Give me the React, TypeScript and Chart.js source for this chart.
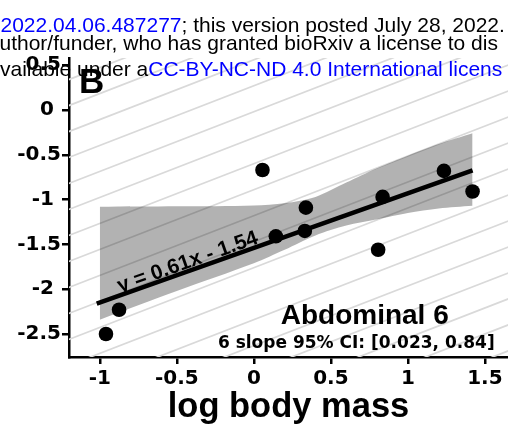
import React, { useEffect, useRef } from "react";
import { Chart, registerables } from "chart.js";

Chart.register(...registerables);

// ---- data ----
const pointX = [-0.96, -0.875, 0.056, 0.143, 0.338, 0.331, 0.836, 0.807, 1.234, 1.42];
const pointY = [-2.5, -2.23, -0.67, -1.41, -1.09, -1.35, -0.97, -1.56, -0.68, -0.91];

const fitSlope = 0.61;
const fitIntercept = -1.54;
const fitXRange = [-1.02, 1.42];

const bandX = [-1, -0.5, 0, 0.2, 0.4, 0.6, 0.8, 1.0, 1.2, 1.42];
const bandUpper = [-1.08, -1.075, -1.065, -1.04, -0.97, -0.81, -0.65, -0.51, -0.38, -0.26];
const bandLower = [-2.34, -2.02, -1.71, -1.56, -1.4, -1.29, -1.22, -1.15, -1.1, -1.07];

const isoSlope = 2 / 3;
const isoIntercepts = [1.14, 0.85, 0.56, 0.27, -0.02, -0.31, -0.6, -0.89, -1.18, -1.47, -1.76, -2.05, -2.34, -2.63, -2.92, -3.21, -3.5, -3.79];

const xTicks = [-1, -0.5, 0, 0.5, 1, 1.5];
const xTickLabels = ["-1", "-0.5", "0", "0.5", "1", "1.5"];
const yTicks = [0.5, 0, -0.5, -1, -1.5, -2, -2.5];
const yTickLabels = ["0.5", "0", "-0.5", "-1", "-1.5", "-2", "-2.5"];
const xRange = [-1.2, 1.65];
const yRange = [-2.757, 0.58];

const xTitle = "log body mass";
const panelLabel = "B";
const eqLabel = "y = 0.61x - 1.54";
const seriesLabel = "Abdominal 6";
const ciLabel = "6 slope 95% CI: [0.023, 0.84]";
const headerLines: [string, string][][] = [
  [["2022.04.06.487277", "#0000ff"], ["; this version posted July 28, 2022.", "#000000"]],
  [["uthor/funder, who has granted bioRxiv a license to dis", "#000000"]],
  [["vailable under a", "#000000"], ["CC-BY-NC-ND 4.0 International licens", "#0000ff"]],
];

const tickFont = { family: "'DejaVu Sans'", weight: "bold" as const, size: 20 };

const annotPlugin = {
  id: "annot",
  afterDatasetsDraw(chart: any) {
    const ctx = chart.ctx;
    const xs = chart.scales.x;
    const ys = chart.scales.y;
    ctx.save();
    const x1 = xs.getPixelForValue(-1);
    const y1 = ys.getPixelForValue(fitSlope * -1 + fitIntercept);
    const x2 = xs.getPixelForValue(1);
    const y2 = ys.getPixelForValue(fitSlope * 1 + fitIntercept);
    const ang = Math.atan2(y2 - y1, x2 - x1);
    ctx.translate(xs.getPixelForValue(-0.43), ys.getPixelForValue(-1.7));
    ctx.rotate(ang);
    ctx.font = "bold 21px 'Liberation Sans'";
    ctx.fillStyle = "#000";
    ctx.textAlign = "center";
    ctx.textBaseline = "middle";
    ctx.fillText(eqLabel, 0, 0);
    ctx.restore();

    ctx.save();
    ctx.fillStyle = "#000";
    ctx.textAlign = "center";
    ctx.textBaseline = "alphabetic";
    ctx.font = "bold 28px 'Liberation Sans'";
    ctx.fillText(seriesLabel, xs.getPixelForValue(0.72), ys.getPixelForValue(-2.39));
    ctx.font = "bold 17px 'DejaVu Sans'";
    ctx.fillText(ciLabel, xs.getPixelForValue(0.665), ys.getPixelForValue(-2.656));
    ctx.restore();
  },
  afterDraw(chart: any) {
    const ctx = chart.ctx;
    ctx.save();
    ctx.textBaseline = "alphabetic";
    ctx.textAlign = "left";
    ctx.font = "21px 'Liberation Sans'";
    const baselines = [31.7, 50, 75.5];
    const starts = [0.5, -0.5, 0];
    headerLines.forEach((line, i) => {
      let x = starts[i];
      line.forEach(([txt, col]) => {
        ctx.fillStyle = col;
        ctx.fillText(txt, x, baselines[i]);
        x += ctx.measureText(txt).width;
      });
    });
    ctx.fillStyle = "#000";
    ctx.font = "bold 35px 'Liberation Sans'";
    ctx.fillText(panelLabel, 79, 93);
    ctx.restore();
  },
};

export default function App() {
  const ref = useRef<HTMLCanvasElement | null>(null);

  useEffect(() => {
    if (!ref.current) return;
    const datasets: any[] = [];
    datasets.push({
      type: "scatter",
      data: pointX.map((x, i) => ({ x, y: pointY[i] })),
      backgroundColor: "#000",
      borderWidth: 0,
      pointRadius: 7.3,
      order: 0,
    });
    datasets.push({
      type: "line",
      data: fitXRange.map((x) => ({ x, y: fitSlope * x + fitIntercept })),
      borderColor: "#000",
      borderWidth: 4.5,
      pointRadius: 0,
      fill: false,
      order: 1,
    });
    datasets.push({
      type: "line",
      data: bandX.map((x, i) => ({ x, y: bandUpper[i] })),
      borderWidth: 0,
      borderColor: "rgba(0,0,0,0)",
      pointRadius: 0,
      tension: 0.3,
      fill: "+1",
      backgroundColor: "rgba(0,0,0,0.3)",
      order: 2,
    });
    datasets.push({
      type: "line",
      data: bandX.map((x, i) => ({ x, y: bandLower[i] })),
      borderWidth: 0,
      borderColor: "rgba(0,0,0,0)",
      pointRadius: 0,
      tension: 0.3,
      fill: false,
      order: 2,
    });
    isoIntercepts.forEach((c) => {
      datasets.push({
        type: "line",
        data: [-1.4, 1.9].map((x) => ({ x, y: c + isoSlope * x })),
        borderColor: "#d9d9d9",
        borderWidth: 1.7,
        pointRadius: 0,
        fill: false,
        order: 3,
      });
    });

    const chart = new Chart(ref.current, {
      type: "scatter",
      data: { datasets },
      plugins: [annotPlugin],
      options: {
        animation: false,
        responsive: false,
        devicePixelRatio: 1,
        events: [],
        layout: { autoPadding: false, padding: { top: 58, right: 0, left: 0, bottom: 0 } },
        plugins: { legend: { display: false }, tooltip: { enabled: false } },
        scales: {
          x: {
            type: "linear",
            min: xRange[0],
            max: xRange[1],
            afterBuildTicks: (s: any) => {
              s.ticks = xTicks.map((v) => ({ value: v }));
            },
            afterFit: (s: any) => {
              s.height = 76;
              s.paddingLeft = 0;
              s.paddingRight = 0;
            },
            ticks: {
              autoSkip: false,
              maxRotation: 0,
              color: "#000",
              font: tickFont,
              padding: 3,
              callback: (_v: any, i: number) => xTickLabels[i],
            },
            grid: { drawOnChartArea: false, drawTicks: true, tickLength: 7, color: "#000", lineWidth: 2.5 },
            border: { display: true, color: "#000", width: 2.5 },
            title: {
              display: true,
              text: xTitle,
              color: "#000",
              font: { family: "'Liberation Sans'", weight: "bold", size: 34.5 },
              padding: { top: 0, bottom: 5 },
            },
          },
          y: {
            type: "linear",
            min: yRange[0],
            max: yRange[1],
            afterBuildTicks: (s: any) => {
              s.ticks = yTicks.map((v) => ({ value: v }));
            },
            afterFit: (s: any) => {
              s.width = 69;
              s.paddingTop = 0;
              s.paddingBottom = 0;
            },
            ticks: {
              autoSkip: false,
              color: "#000",
              font: tickFont,
              padding: 1,
              callback: (v: any, i: number) => (Number.isInteger(v) ? yTickLabels[i] + " " : yTickLabels[i]),
            },
            grid: { drawOnChartArea: false, drawTicks: true, tickLength: 7, color: "#000", lineWidth: 2.5 },
            border: { display: true, color: "#000", width: 2.5 },
          },
        },
      },
    } as any);
    return () => chart.destroy();
  }, []);

  return (
    <div style={{ position: "fixed", left: 0, top: 0, width: 508, height: 433, background: "#fff", overflow: "hidden" }}>
      <canvas ref={ref} width={508} height={433} style={{ display: "block" }} />
    </div>
  );
}
